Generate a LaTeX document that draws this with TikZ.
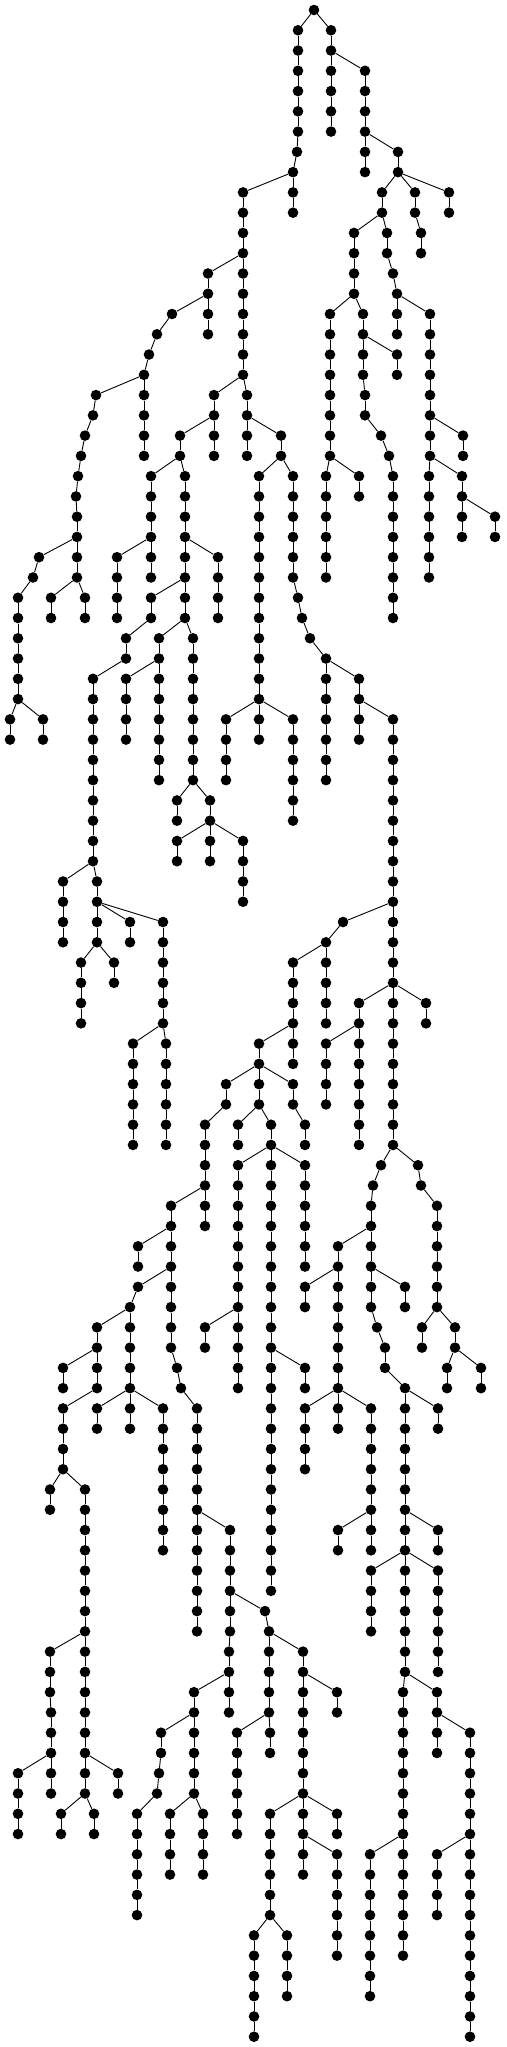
\documentclass[tikz,border=0pt]{standalone}
\tikzset{
  dot/.style={circle,fill=black,draw=none,minimum size=10.6pt,inner sep=0pt},
  edge/.style={line width=0.9pt,draw=black}
}
\begin{document}
\begin{tikzpicture}[x=1pt,y=1pt]
\useasboundingbox (0,0) rectangle (506,-2047);
\node[dot] (n314-0) at (314,-10) {};
\foreach \px/\pr/\xs in {
314/0/{298,298,298,298,298,298,297,293},
293/8/{293,293},
293/8/{243,243,243,243},
243/12/{243,243,243,243,243,243},
243/12/{208,208,208,208},
208/14/{172,157,149,144,144,144,144,144},
144/18/{96,93,85,81,78,76,77,77},
77/26/{39,33,18,18,18,18,18,18},
18/34/{10,10},
18/34/{43,43},
77/26/{77,77},
77/28/{51,51},
77/28/{85,85},
243/18/{214,214,214,214},
214/20/{180,180},
180/22/{151,151,151,151,151,151},
151/26/{117,117,117,117},
180/22/{185,185,185,185,185,185,185,185},
185/26/{218,218,218,218},
185/28/{151,151,126,126,93,93,93,93,93,93,93,93,93,93},
93/42/{63,63,63,63},
93/42/{97,97,97,97,81,81,81,81},
97/44/{130,130},
97/44/{163,163,163,163,163,163},
163/50/{133,133,133,133,133,133},
163/50/{166,166,166,166,166,166},
97/46/{114,114},
185/30/{159,159,159,159,159,159,159,159},
159/32/{126,126,126,126},
185/30/{193,193,193,193,193,193,193,193},
193/38/{177,177},
193/38/{210,210,210,210},
210/40/{177,177},
210/40/{243,243,243,243},
243/18/{247,247,247,247},
247/20/{281,281},
281/22/{259,259,259,259,259,259,259,259,259,259,259,259,259,259},
259/34/{226,226,226,226},
259/34/{293,293,293,293,293,293},
281/22/{293,293,293,293,293,293,298,302,310,326,326,326,326,326,326,326},
326/32/{359,359,359,359},
359/34/{393,393,393,393,393,393,393,393,393,393,393,393,393,393,393,393,393,393,393,393,393,393},
393/44/{343,326,326,326,326,326},
326/46/{293,293,293,293,293,293},
293/50/{259,259,259,259,238,238},
259/52/{293,293,305,305},
259/54/{271,271,271,271,271,271,271,271,271,271,271,271,271,271,271,271,271,271,271,271,271,271,271,271},
271/56/{238,238,238,238,238,238,238,238,238,238,238,238},
238/64/{205,205},
271/56/{305,305,305,305,305,305},
271/66/{305,305},
259/52/{226,226,205,205,205,205,205,205},
205/58/{171,171,171,171,171,171,171,171,177,181,197,197,197,197,197,197,197,197,197,197,197,197},
171/60/{138,138},
171/62/{138,130,130,130,130,130,130,130},
130/64/{97,97,97,97,63,63,63,63,85,85,85,85,85,85,85,85,85,85,85,85,85,85,85,85},
97/66/{63,63},
63/72/{50,50},
85/80/{50,50,50,51,51,51,51,51},
51/86/{18,18,18,18},
85/86/{118,118},
85/88/{61,61},
85/88/{94,94},
130/68/{97,97},
130/68/{163,163,163,163,163,163,163,163},
197/74/{230,230,230,230,230,230,229,229,229,229},
229/82/{194,194,194,194,194,194},
194/84/{161,161,159,157,137,137,137,137,137,137},
194/88/{170,170,170,170},
194/88/{203,203,203,203},
230/78/{265,269,269,269,269,269},
269/84/{237,237,237,237,237,237},
269/84/{270,270},
269/80/{303,303,303,303,303,303,303,303,303,303,303,303},
303/82/{337,337},
303/88/{270,270,270,270,270,270},
270/94/{254,254,254,254,254,254},
270/94/{287,287,287,287},
303/88/{337,337},
303/90/{337,337,337,337,337,337},
393/48/{359,359,359,359,359,359,359,359},
359/50/{326,326,326,326},
393/48/{426,426},
393/56/{381,373,371,371,371,371,371,371,377,385,385,405,405,405,405,405,405,405,405,405,405,405,405,405,405,405,403,403,403,403,403,403,403,403,403,403,403,403,403,403},
371/60/{338,338,338,338,338,338,338,338,338,338},
338/62/{305,305},
338/68/{305,305,305,305},
338/68/{371,371,371,371,371,371,371,371},
371/74/{338,338},
371/62/{405,405},
405/68/{438,438},
405/74/{438,438},
405/76/{371,371,371,371},
405/76/{438,438,438,438,438,438},
405/82/{437,437,437,437},
437/84/{470,470,470,470,470,470,470,470,470,470,470,470,470,470,470,470},
470/90/{437,437,437,437},
403/90/{370,370,370,370,370,370,370,370},
393/56/{418,421,437,437,437,437,437,437},
437/64/{422,422},
437/64/{455,455},
455/66/{447,447},
455/66/{481,481},
314/0/{331,331,331,331,331,331},
331/2/{365,365,365,365,365,365},
365/6/{398,398},
398/8/{449,449},
398/8/{415,415,421,421},
398/8/{382,382},
382/10/{354,354,354,354},
354/14/{330,330,330,330,330,330,330,330},
330/22/{326,326,326,326,326,326},
330/22/{359,359},
354/14/{363,363,363,363,365,365,381,389,393,393,393,393,393,393,393,393},
363/16/{397,397},
382/10/{387,387,393,397,397,397},
397/14/{430,430,430,430,430,430,430,430},
430/20/{463,463},
430/22/{429,429,429,429,429,429},
430/22/{462,462,462,462},
462/24/{495,495}%
}{
  \foreach \x [count=\k, remember=\x as \lx (initially \px)] in \xs {
    \pgfmathtruncatemacro\rw{\pr+\k}
    \pgfmathtruncatemacro\rp{\rw-1}
    \pgfmathsetmacro\yy{-10-20.267*\rw}
    \node[dot] (n\x-\rw) at (\x,\yy) {};
    \draw[edge] (n\lx-\rp) -- (n\x-\rw);
  }
}
\end{tikzpicture}
\end{document}
